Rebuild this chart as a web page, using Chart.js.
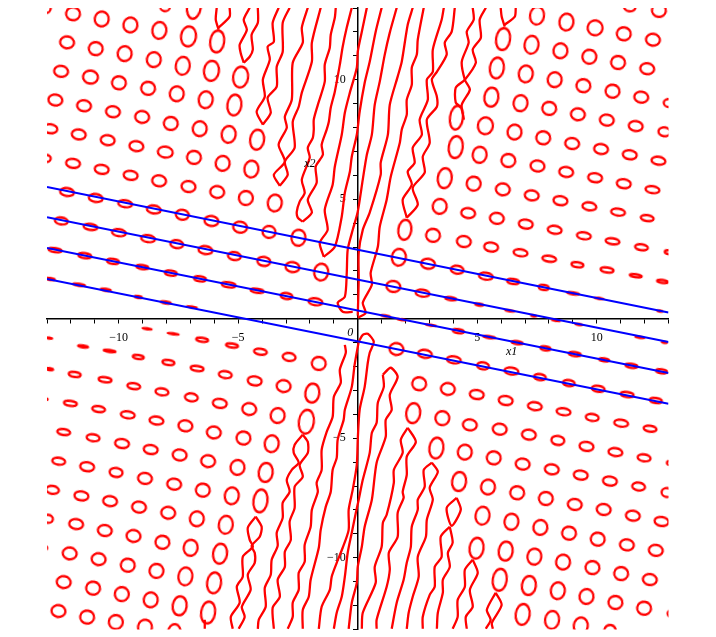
<!DOCTYPE html>
<html>
<head>
<meta charset="utf-8">
<style>
html, body { margin: 0; padding: 0; background: #fff; }
canvas { display: block; }
</style>
<script src="https://cdn.jsdelivr.net/npm/chart.js@4"></script>
</head>
<body>
<canvas id="grafico" width="716" height="637"></canvas>
<script>
// Closed contours: centres in axis units, one row per line
const ringX1 = [
  -13.03,-11.91,-10.71,-9.51,-8.30,-7.08,-8.06,-6.85,
  -12.16,-10.96,-9.75,-8.53,-7.32,-6.12,-4.90,-5.88,
  -12.41,-11.18,-9.99,-8.77,-7.57,-6.36,-5.16,
  -12.65,-11.45,-10.24,-9.02,-7.82,-6.61,-5.40,-4.21,
  -12.86,-11.67,-10.46,-9.26,-8.05,-6.85,-5.65,-4.45,
  -13.03,-11.91,-10.71,-9.50,-8.31,-7.08,-5.88,-4.68,-3.47,
  -12.16,-10.96,-9.73,-8.53,-7.34,-6.12,-4.92,-3.71,-2.48,
  -12.40,-11.18,-9.99,-8.77,-7.57,-6.37,-5.16,-3.93,-2.73,-1.53,
  -12.66,-11.42,-10.24,-9.01,-7.82,-6.60,-5.40,-4.21,-2.98,-1.77,
  -12.86,-11.66,-10.54,-9.18,-8.03,-6.94,
  -8.81,-7.72,-6.51,-5.26,-4.07,-2.87,-1.63,
  -12.91,-11.49,-10.38,-9.18,-7.92,-6.72,-5.54,-4.31,-3.10,-1.90,
  -12.89,-11.84,-10.57,-9.37,-8.19,-6.96,-5.77,-4.54,-3.35,-2.15,
  -13.10,-12.02,-10.84,-9.62,-8.42,-7.21,-6.02,-4.78,-3.60,
  -12.30,-11.07,-9.86,-8.66,-7.45,-6.26,-5.03,-3.85,
  -12.51,-11.32,-10.11,-8.90,-7.68,-6.48,-5.27,-4.07,
  -12.77,-11.56,-10.36,-9.15,-7.93,-6.73,-5.52,
  -12.96,-11.78,-10.58,-9.38,-8.17,-6.99,-5.76,
  -13.14,-12.05,-10.84,-9.62,-8.42,-7.21,-6.01,
  -12.30,-11.07,-9.87,-8.66,-7.45,-6.26,
  -12.52,-11.32,-10.12,-8.90,-7.68,
  7.50,8.73,9.93,11.13,12.35,11.38,12.60,
  6.08,7.27,8.48,9.69,10.89,12.11,
  5.82,7.03,8.24,9.44,10.66,11.86,13.03,
  5.59,6.81,8.01,9.21,10.42,11.63,12.83,
  4.13,5.34,6.56,7.76,8.97,10.18,11.38,12.58,
  4.10,5.10,6.30,7.52,8.72,9.93,11.13,12.33,
  3.64,4.85,6.07,7.28,8.48,9.69,10.89,12.11,
  3.43,4.62,5.82,7.03,8.24,9.46,10.66,11.87,13.03,
  1.97,3.15,4.44,5.58,6.81,8.01,9.19,10.43,11.63,12.75,
  1.72,2.94,4.16,5.36,6.50,7.78,9.01,10.10,12.64,
  1.49,2.71,3.89,5.08,6.36,7.36,
  1.16,1.84,3.06,4.21,5.50,6.67,7.85,9.08,10.31,11.45,12.71,
  8.29,9.25,11.80,12.83,
  1.62,2.81,4.02,5.24,6.43,7.62,8.83,10.06,11.27,12.47,
  2.57,3.77,4.98,6.19,7.41,8.61,9.81,11.02,12.23,
  2.32,3.54,4.69,5.94,7.16,8.37,9.57,10.78,11.98,
  3.29,4.48,5.69,6.90,8.12,9.33,10.55,11.75,13.08,
  4.24,5.45,6.67,7.87,9.08,10.29,11.51,12.71,12.94,
  5.22,6.43,7.64,8.84,10.04,11.26,12.47,
  4.97,6.19,7.39,8.59,9.82,11.02,12.22,
  5.94,7.16,8.37,9.57,10.78,11.98,13.13,
  6.90,8.13,9.33,10.55
];
const ringX2 = [
  13.00,12.76,12.54,12.29,12.06,11.81,13.07,13.07,
  11.56,11.30,11.09,10.84,10.58,10.37,10.11,11.60,
  10.35,10.11,9.87,9.64,9.41,9.16,8.94,
  9.15,8.91,8.66,8.44,8.17,7.95,7.71,7.49,
  7.95,7.71,7.47,7.22,6.97,6.75,6.50,6.26,
  6.71,6.50,6.25,6.00,5.77,5.53,5.30,5.05,4.84,
  5.30,5.05,4.81,4.57,4.35,4.09,3.83,3.63,3.39,
  4.09,3.84,3.60,3.35,3.12,2.87,2.62,2.40,2.16,1.95,
  2.87,2.64,2.40,2.16,1.91,1.67,1.42,1.17,0.95,0.71,
  1.66,1.42,1.21,0.91,0.68,0.49,
  -0.42,-0.63,-0.88,-1.12,-1.38,-1.60,-1.87,
  -0.81,-1.16,-1.35,-1.60,-1.83,-2.08,-2.34,-2.60,-2.82,-3.11,
  -2.11,-2.33,-2.55,-2.82,-3.06,-3.29,-3.54,-3.78,-4.05,-4.31,
  -3.36,-3.54,-3.78,-4.02,-4.26,-4.48,-4.76,-4.99,-5.23,
  -4.74,-4.98,-5.22,-5.47,-5.70,-5.96,-6.22,-6.43,
  -5.96,-6.19,-6.43,-6.68,-6.92,-7.17,-7.41,-7.62,
  -7.16,-7.41,-7.63,-7.88,-8.12,-8.37,-8.62,
  -8.37,-8.59,-8.86,-9.09,-9.35,-9.58,-9.83,
  -9.58,-9.82,-10.06,-10.31,-10.55,-10.78,-11.05,
  -11.02,-11.27,-11.52,-11.76,-12.01,-12.29,
  -12.23,-12.48,-12.69,-12.90,-13.15,
  12.68,12.41,12.17,11.92,11.67,13.07,12.90,
  11.70,11.46,11.21,10.96,10.72,10.46,
  10.49,10.24,10.00,9.75,9.52,9.27,9.02,
  9.27,9.02,8.80,8.55,8.31,8.06,7.82,
  8.41,8.07,7.81,7.57,7.33,7.10,6.86,6.61,
  7.18,6.86,6.62,6.39,6.14,5.90,5.65,5.40,
  5.88,5.65,5.41,5.16,4.94,4.70,4.46,4.21,
  4.70,4.42,4.20,3.96,3.72,3.47,3.24,2.99,2.78,
  3.72,3.49,3.23,3.00,2.76,2.51,2.26,2.04,1.80,1.56,
  2.57,2.30,2.05,1.78,1.56,1.31,1.06,0.85,0.32,
  1.35,1.07,0.84,0.59,0.33,0.12,
  0.12,-0.04,-0.27,-0.52,-0.77,-1.00,-1.24,-1.48,-1.72,-1.97,-2.20,
  -0.07,-0.24,-0.78,-0.99,
  -1.27,-1.47,-1.72,-1.97,-2.19,-2.44,-2.69,-2.93,-3.17,-3.42,
  -2.72,-2.94,-3.17,-3.42,-3.66,-3.89,-4.13,-4.37,-4.60,
  -3.95,-4.16,-4.44,-4.62,-4.85,-5.09,-5.34,-5.58,-5.82,
  -5.41,-5.58,-5.82,-6.08,-6.30,-6.54,-6.79,-7.02,-6.04,
  -6.81,-7.04,-7.28,-7.52,-7.77,-7.98,-8.24,-8.48,-7.27,
  -8.24,-8.49,-8.73,-8.97,-9.22,-9.46,-9.69,
  -9.60,-9.72,-9.95,-10.18,-10.41,-10.66,-10.91,
  -10.92,-11.16,-11.38,-11.62,-11.87,-12.11,-12.34,
  -12.37,-12.60,-12.85,-13.08
];
// Drawn size of each ring in px, same order as above
const ringW = [
  10,15,15,15,15,16,11,15,
  15,15,15,15,15,16,16,15,
  15,16,15,15,15,15,15,
  15,15,15,15,15,15,15,15,
  15,15,15,15,16,15,15,15,
  10,15,15,15,15,15,15,15,15,
  15,15,15,15,14,15,15,14,15,
  14,15,15,15,14,15,14,14,15,15,
  14,14,13,13,13,13,15,14,13,15,
  10,13,11,8,11,11,
  10,12,13,13,14,14,15,
  7,11,13,12,13,14,14,15,15,15,
  8,13,14,14,14,14,15,15,15,16,
  7,14,14,15,15,15,15,15,15,
  14,14,15,15,15,15,15,15,
  14,15,14,15,15,15,15,15,
  14,15,15,15,15,15,15,
  11,15,15,15,15,15,15,
  8,15,15,15,15,15,15,
  15,15,15,15,15,15,
  15,15,15,15,14,
  15,15,16,15,15,13,15,
  15,15,15,15,15,15,
  15,15,15,15,15,15,12,
  15,15,15,15,15,15,13,
  14,16,15,15,15,15,15,15,
  15,15,15,15,15,15,15,15,
  15,15,15,15,15,15,15,14,
  15,15,15,15,15,15,15,14,10,
  14,15,15,15,15,15,13,14,13,12,
  15,15,14,15,13,11,13,10,6,
  15,15,12,9,10,6,
  10,9,11,12,13,12,11,13,11,13,12,
  9,8,10,6,
  15,15,15,13,15,13,13,14,14,13,
  15,15,15,15,15,15,14,15,14,
  15,15,15,15,15,14,15,15,14,
  15,15,15,15,15,15,15,14,8,
  15,15,15,15,15,15,15,15,12,
  15,15,15,15,15,15,15,
  15,15,15,15,15,15,15,
  15,15,15,15,15,15,9,
  15,15,15,13
];
const ringH = [
  12,15,17,17,19,22,12,27,
  14,15,17,17,20,22,23,24,
  13,15,15,15,17,19,23,
  13,13,13,14,15,17,19,22,
  11,12,12,12,13,15,17,19,
  9,11,11,11,13,13,14,16,19,
  10,10,9,10,12,12,13,14,18,
  9,8,9,9,10,10,10,11,12,19,
  6,7,7,6,7,7,7,6,8,9,
  4,4,4,4,4,3,
  3,3,6,6,8,10,15,
  2,4,4,6,7,7,9,11,14,21,
  4,7,7,8,9,10,11,14,17,26,
  4,7,8,9,10,13,14,15,19,
  8,9,11,11,13,14,17,21,
  9,11,11,13,13,15,19,25,
  10,11,12,13,14,17,20,
  10,12,13,14,15,18,22,
  6,14,14,15,16,20,23,
  14,15,16,17,21,24,
  14,15,16,17,20,
  20,19,17,15,14,12,15,
  24,20,17,16,15,13,
  23,19,17,15,15,13,10,
  21,18,15,14,13,12,11,
  26,19,17,15,13,12,11,10,
  24,18,15,13,12,11,11,9,
  22,16,14,12,11,10,9,8,
  17,12,13,11,10,9,8,8,6,
  22,15,13,11,9,8,7,7,5,5,
  19,12,10,9,7,7,4,3,2,
  13,9,5,4,2,1,
  3,2,3,6,4,5,6,6,5,6,6,
  1,1,3,2,
  14,10,9,9,9,8,8,8,7,7,
  15,14,11,11,10,9,9,9,8,
  22,16,13,13,12,11,11,10,9,
  23,17,15,13,12,11,11,10,6,
  21,17,15,15,13,13,12,11,11,
  20,18,17,15,15,13,13,
  23,21,18,17,15,15,13,
  24,21,19,17,15,15,9,
  23,20,19,15
];

// Wavy open contours, x1 and x2 lists in the same order
const strandX1 = [
  [-5.90,-5.94,-5.82],
  [-5.36,-5.36,-5.82],
  [-4.52,-4.77,-4.64,-4.94,-4.90,-4.77],
  [-4.18,-4.18,-4.44,-4.39,-4.52,-4.77],
  [-3.31,-3.56,-3.51,-3.77,-3.68,-3.97,-3.89,-4.23,-3.97],
  [-2.85,-3.14,-3.14,-3.39,-3.39,-3.77,-3.64,-3.97],
  [-2.09,-2.34,-2.30,-2.72,-2.76,-3.05,-2.97,-3.31,-3.05,-3.51,-3.26],
  [-1.55,-1.92,-1.92,-2.34,-2.47,-2.72,-2.64,-3.05,-2.93,-3.26],
  [-0.92,-0.96,-1.13,-1.17,-1.38,-1.38,-1.67,-1.84,-1.84,-1.88,-2.09,-2.01,-2.34,-2.22,-2.43,-2.55,-2.51,-2.30],
  [-0.25,-0.46,-0.63,-0.75,-0.96,-1.13,-1.21,-1.30,-1.51,-1.46,-1.76,-1.72,-2.09,-1.92,-2.30],
  [0.38,0.17,0,-0.04,-0.33,-0.54,-0.67,-0.96,-1.05,-1.38,-1.26,-1.59,-1.42],
  [1.00,0.75,0.50,0.29,0.08,-0.04,-0.25,-0.33,-0.54,-0.67,-0.96,-1.42],
  [1.63,1.34,1.13,0.92,0.71,0.59,0.38,0.21,0,-0.21,-0.42,-0.46,-0.54,-0.84,-0.63,-0.21],
  [2.30,2.09,1.84,1.67,1.34,1.26,0.96,0.96,0.50,0.21,0.04,0.04,0],
  [2.76,2.51,2.47,2.26,2.26,2.05,2.05,1.84,1.76,1.38,1.21,0.92,0.84,0.54,0.59,0.21,0.33,0],
  [3.60,3.51,3.14,3.14,2.89,2.93,2.59,2.68,2.30,2.38,2.09,2.26,1.88,2.05],
  [4.06,3.93,3.64,3.72,3.31,3.10,3.31,3.31,2.89,3.01,2.72,2.80,2.30,2.51,2.05],
  [4.81,4.85,4.56,4.64,4.35,4.48,4.69,4.35,4.44],
  [5.36,5.10,5.15,4.81,4.94,4.48,4.10,4.10,4.31],
  [5.98,6.02,6.15],
  [6.61,6.57,6.15],
  [-0.54,-0.50,-0.75,-0.71,-1.00,-1.05,-1.30,-1.51,-1.51,-1.72,-1.67,-1.92,-1.97,-2.22,-2.22,-2.47,-2.47,-2.72,-2.72,-2.93],
  [0.04,-0.13,-0.25,-0.54,-0.59,-0.84,-0.88,-1.05,-1.13,-1.34,-1.55,-1.63,-1.97,-2.05,-2.30,-2.30],
  [0.04,0.21,0.42,0.67,0.50,0.42,0.29,0.08,0,-0.04,-0.21,-0.38,-0.38,-0.63,-0.88,-1.09,-1.17,-1.51,-1.63],
  [1.05,1.09,0.84,0.79,0.59,0.50,0.21,0.04,-0.08,-0.25,-0.42,-0.54,-0.67,-0.88,-1.00],
  [1.05,1.38,1.67,1.34,1.42,1.17,1.17,0.79,0.59,0.29,0.17,0,-0.04,-0.25,-0.38],
  [2.09,1.80,1.88,1.51,1.51,1.21,1.05,1.00,0.71,0.75,0.21,0.17],
  [2.09,2.43,2.05,2.05,1.88,1.92,1.67,1.67,1.30,1.34,1.21,0.79,0.79],
  [3.10,2.76,2.80,2.51,2.51,2.26,2.22,2.05,1.92,1.63,1.42],
  [3.10,3.35,3.01,3.14,2.89,2.85,2.51,2.55,2.30,2.13,2.05],
  [4.14,3.72,3.93,4.31,4.14],
  [3.85,3.47,3.51,3.22,3.22,3.01,2.72,2.72],
  [3.85,3.97,3.77,3.85,3.56,3.56,3.35,3.31],
  [4.81,4.48,4.48,4.18,4.18,3.97],
  [4.81,5.02,4.69,4.81,4.52,4.56],
  [5.77,6.02,5.61,5.65],
  [5.77,5.40,5.56,5.36],
  [-2.30,-2.64,-2.68,-2.47,-2.76,-2.97,-2.85,-3.14,-3.14,-3.39,-3.35,-3.60,-3.64,-3.89,-3.85,-4.14,-4.18],
  [-2.30,-2.09,-2.09,-2.43,-2.30,-2.64,-2.64,-2.85,-2.80,-3.05,-3.05,-3.35,-3.26,-3.56,-3.51],
  [-4.27,-4.60,-4.52,-4.39,-4.81,-4.81,-5.06,-4.94,-5.31,-5.23],
  [-4.27,-4.02,-4.10,-4.44,-4.31,-4.31,-4.60,-4.48,-4.85,-4.73,-4.98],
  [-6.40,-6.40]
];
const strandX2 = [
  [13.01,12.51,12.09],
  [13.01,12.64,12.18],
  [13.01,12.51,12.09,11.46,11.13,10.71],
  [13.01,12.38,11.88,11.26,10.96,10.71],
  [13.01,12.38,11.59,11.38,10.84,10.00,9.29,8.66,8.12],
  [13.01,12.38,11.17,10.54,9.71,9.25,8.62,8.12],
  [13.01,12.18,11.55,10.71,9.16,8.45,7.99,7.28,6.57,6.02,5.56],
  [13.01,11.55,10.75,9.46,8.87,8.24,7.15,6.57,6.02,5.56],
  [13.01,12.59,11.88,11.34,10.63,9.92,8.95,8.33,7.91,7.57,7.15,6.74,5.82,5.27,4.90,4.48,4.23,4.06],
  [13.01,12.18,11.38,10.63,9.50,8.83,8.24,7.91,7.28,6.86,6.36,5.69,4.98,4.44,4.06],
  [13.01,12.01,11.17,10.50,9.46,8.62,7.70,6.36,5.61,4.56,3.72,3.18,2.59],
  [13.01,12.01,10.75,9.87,8.66,7.70,6.78,6.15,5.27,4.27,3.01,2.59],
  [13.01,11.97,11.05,9.92,8.95,7.70,6.86,5.82,4.48,3.72,2.89,1.92,0.92,0.67,0.29,0.29],
  [13.01,12.30,10.75,10.13,8.95,7.70,6.53,6.02,4.44,3.72,2.76,1.63,0.13],
  [13.01,11.67,11.05,10.50,9.79,9.16,8.54,7.91,7.36,5.94,4.98,3.85,3.01,1.92,1.42,0.67,0.25,0.04],
  [13.01,12.51,11.26,10.33,10.00,9.16,8.33,7.70,7.15,6.53,6.15,5.61,4.98,4.23],
  [13.01,12.01,11.55,11.05,10.33,10.00,9.29,8.87,8.33,7.36,6.78,6.11,5.48,4.77,4.23],
  [13.01,12.51,12.01,11.55,10.75,10.00,9.58,8.95,8.33],
  [13.01,12.51,11.76,11.26,10.71,10.00,9.67,9.04,8.87],
  [13.01,12.64,12.22],
  [13.01,12.64,12.30],
  [-1.09,-1.42,-2.13,-2.68,-3.26,-4.10,-4.73,-5.48,-6.32,-6.86,-7.24,-7.99,-8.70,-9.46,-10.17,-10.63,-11.34,-11.88,-12.47,-12.97],
  [-0.96,-1.92,-2.85,-3.81,-4.23,-5.06,-5.82,-6.32,-7.24,-7.87,-8.83,-9.58,-10.92,-11.63,-12.18,-12.97],
  [-0.96,-0.67,-0.63,-0.96,-1.42,-1.84,-2.85,-3.81,-5.06,-6.11,-7.15,-7.99,-8.83,-9.58,-10.21,-10.79,-11.34,-12.05,-12.97],
  [-2.34,-2.85,-3.51,-4.35,-4.77,-5.61,-6.74,-7.57,-8.12,-8.95,-9.79,-10.79,-11.63,-12.30,-12.97],
  [-2.34,-2.05,-2.43,-3.18,-3.81,-4.23,-4.94,-6.02,-7.57,-8.70,-9.54,-10.38,-11.05,-11.88,-12.97],
  [-4.56,-5.06,-5.61,-6.32,-6.86,-8.20,-8.54,-9.54,-10.38,-11.05,-12.30,-12.97],
  [-4.56,-5.15,-5.77,-6.53,-7.24,-7.49,-8.12,-9.12,-9.79,-10.50,-11.21,-12.59,-12.97],
  [-6.02,-6.32,-7.03,-7.57,-7.99,-8.70,-9.54,-10.21,-10.92,-11.88,-12.97],
  [-6.02,-6.40,-7.07,-7.57,-8.41,-9.12,-9.96,-10.79,-11.63,-12.30,-12.97],
  [-7.49,-7.91,-8.66,-7.99,-7.49],
  [-8.70,-9.12,-9.96,-10.38,-11.21,-11.55,-12.47,-12.97],
  [-8.70,-9.37,-9.79,-10.38,-10.92,-11.46,-12.30,-12.97],
  [-10.08,-10.50,-11.21,-11.76,-12.47,-12.97],
  [-10.08,-10.63,-11.34,-12.05,-12.47,-12.97],
  [-11.46,-11.97,-12.72,-12.97],
  [-11.46,-12.18,-12.59,-12.97],
  [-4.85,-5.27,-5.61,-6.02,-6.32,-6.74,-7.24,-7.70,-8.33,-8.95,-9.50,-10.08,-10.71,-11.26,-12.05,-12.59,-12.97],
  [-4.85,-5.15,-5.61,-6.11,-6.61,-7.03,-7.91,-8.49,-9.25,-9.75,-10.38,-10.92,-11.63,-12.09,-12.97],
  [-8.28,-8.74,-9.25,-9.54,-9.96,-10.79,-11.21,-11.88,-12.47,-12.97],
  [-8.28,-8.70,-9.12,-9.50,-9.79,-10.21,-10.71,-11.34,-12.05,-12.47,-12.97],
  [-12.59,-12.97]
];

// Four blue lines, value at the left and right edge
const lineEnds = [-13, 13];
const lineLeft = [5.51, 4.25, 2.96, 1.66];
const lineRight = [0.26, -0.975, -2.27, -3.56];

const axisLabels = [-10, -5, 5, 10];
const noteText = ["x1", "x2", "0"];
const noteX1 = [6.44, -2.0, -0.31];
const noteX2 = [-1.38, 6.5, -0.59];

// ring drawn once on a small canvas, used as point style
function fazerAnel(w, h) {
    const lado = Math.max(w, h) + 6;
    const c = document.createElement("canvas");
    c.width = lado;
    c.height = lado;
    const g = c.getContext("2d");
    g.strokeStyle = "#ff0000";
    g.lineWidth = 2.3;
    g.beginPath();
    g.ellipse(lado / 2, lado / 2, Math.max((w + 1) / 2 - 1, 0.5), Math.max(h / 2 - 1, 0.5), 0, 0, Math.PI * 2);
    g.stroke();
    return c;
}
const aneis = ringW.map((w, i) => fazerAnel(w, ringH[i]));

const datasets = [];

lineLeft.forEach((v, i) => {
    datasets.push({
        data: [{ x: lineEnds[0], y: v }, { x: lineEnds[1], y: lineRight[i] }],
        showLine: true,
        borderColor: "#0000ff",
        borderWidth: 2,
        pointRadius: 0,
        order: 1
    });
});

strandX1.forEach((xs, i) => {
    datasets.push({
        data: xs.map((x, j) => ({ x: x, y: strandX2[i][j] })),
        showLine: true,
        borderColor: "#ff0000",
        borderWidth: 2.3,
        tension: 0.25,
        pointRadius: 0,
        order: 2
    });
});

datasets.push({
    data: ringX1.map((x, i) => ({ x: x, y: ringX2[i] })),
    showLine: false,
    pointRadius: 14,
    pointBorderWidth: 0,
    pointRotation: 8,
    pointStyle: ctx => aneis[ctx.dataIndex],
    order: 3
});

// x1, x2 and 0 are placed inside the plot
const notas = {
    id: "notas",
    afterDatasetsDraw(chart) {
        const g = chart.ctx;
        g.save();
        g.font = "italic 12px 'Liberation Serif'";
        g.fillStyle = "#000";
        g.textAlign = "center";
        g.textBaseline = "middle";
        noteText.forEach((t, i) => {
            g.fillText(t, chart.scales.x.getPixelForValue(noteX1[i]), chart.scales.y.getPixelForValue(noteX2[i]));
        });
        g.restore();
    }
};

function eixo(pos, respiro, folga) {
    return {
        type: "linear",
        position: pos,
        min: -13,
        max: 13,
        z: 1,
        border: { display: true, color: "#000", width: 1.5 },
        grid: { display: true, drawOnChartArea: false, drawTicks: true, tickLength: 4, color: "#000", lineWidth: 1 },
        ticks: {
            stepSize: 1,
            autoSkip: false,
            maxRotation: 0,
            padding: respiro,
            color: "#000",
            font: { family: "'Liberation Serif'", size: 12 },
            // centred axes ignore padding for the y labels, so spaces keep them off the axis
            callback: v => axisLabels.includes(v) ? String(v).replace("-", "\u2212") + folga : ""
        }
    };
}

new Chart(document.getElementById("grafico"), {
    type: "scatter",
    data: { datasets: datasets },
    options: {
        responsive: false,
        animation: false,
        events: [],
        // autoPadding would reserve room for the big point radius
        layout: { autoPadding: false, padding: { left: 47, right: 47.5, top: 8, bottom: 7.5 } },
        plugins: { legend: { display: false }, tooltip: { enabled: false } },
        scales: {
            x: eixo({ y: 0 }, 8, ""),
            y: eixo({ x: 0 }, 0, "\u00a0\u00a0\u00a0\u00a0")
        }
    },
    plugins: [notas]
});
</script>
</body>
</html>
